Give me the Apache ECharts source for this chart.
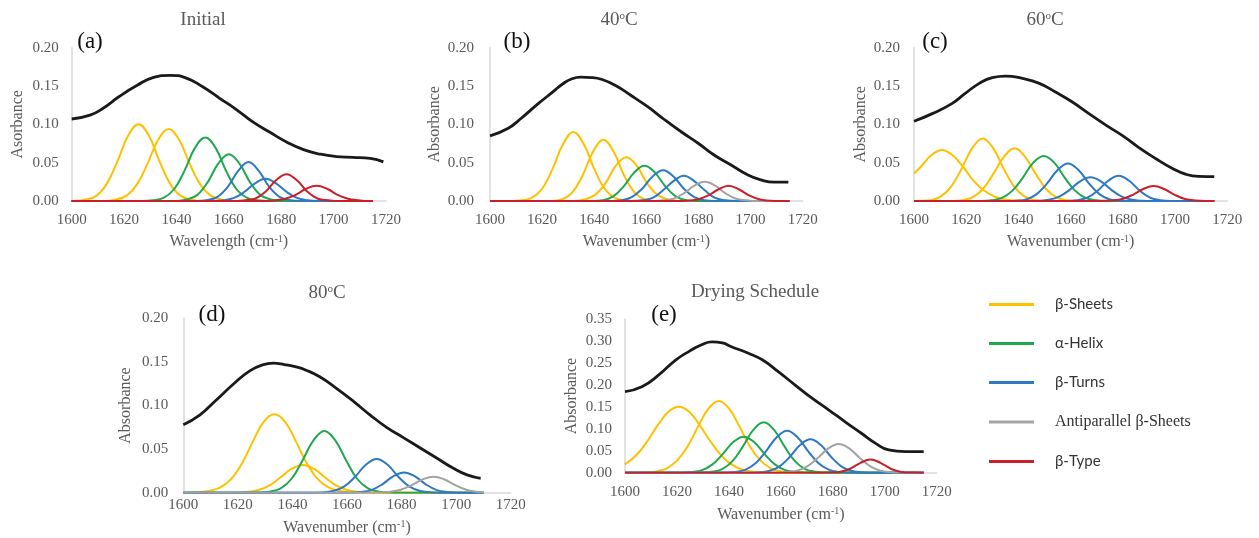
<!DOCTYPE html>
<html><head><meta charset="utf-8">
<script src="https://cdn.jsdelivr.net/npm/echarts@6/dist/echarts.min.js"></script>
<style>html,body{margin:0;padding:0;background:#fff}#c{width:1259px;height:538px}</style>
</head><body><div id="c"></div>
<script>
// ---------------- DATA ----------------
const xTicks = [1600, 1620, 1640, 1660, 1680, 1700, 1720];
const legendNames = ['β-Sheets', 'α-Helix', 'β-Turns', 'Antiparallel β-Sheets', 'β-Type'];
const panelTitles = ['Initial', '40{sup|o}C', '60{sup|o}C', '80{sup|o}C', 'Drying Schedule'];
const panelLetters = ['(a)', '(b)', '(c)', '(d)', '(e)'];
const xNames = ['Wavelength (cm{sup|-1})', 'Wavenumber (cm{sup|-1})', 'Wavenumber (cm{sup|-1})', 'Wavenumber (cm{sup|-1})', 'Wavenumber (cm{sup|-1})'];
const yNames = ['Asorbance', 'Absorbance', 'Absorbance', 'Absorbance', 'Absorbance'];
const yMax = [0.20, 0.20, 0.20, 0.20, 0.35];

// (a) Initial
const totalA = [[1600,0.107],[1607,0.112],[1612,0.121],[1618,0.136],[1625,0.151],[1631,0.161],[1637.5,0.164],[1644,0.160],[1650,0.149],[1656.5,0.134],[1663,0.119],[1669,0.1035],[1675.5,0.090],[1682,0.077],[1688.5,0.067],[1695,0.061],[1701,0.058],[1707.5,0.057],[1714,0.0555],[1719,0.051]];
const typesA = ['β-Sheets','β-Sheets','α-Helix','α-Helix','β-Turns','β-Turns','β-Type','β-Type'];
const peaksA = [
 [[1600,0],[1605.5,0.002],[1609.5,0.007],[1613.5,0.023],[1617.5,0.052],[1621.5,0.085],[1625.5,0.100],[1629.5,0.085],[1633.5,0.052],[1637.5,0.023],[1641.5,0.007],[1645.5,0.002],[1650,0],[1715,0]],
 [[1600,0],[1612,0],[1617,0.002],[1621,0.007],[1625,0.022],[1629,0.049],[1633,0.080],[1637,0.094],[1641,0.080],[1645,0.049],[1649,0.022],[1653,0.007],[1657,0.002],[1662,0],[1715,0]],
 [[1600,0],[1627,0],[1631,0.001],[1635,0.004],[1639,0.015],[1643,0.039],[1647,0.069],[1651,0.083],[1655,0.069],[1659,0.039],[1663,0.015],[1667,0.004],[1671,0.001],[1675,0],[1715,0]],
 [[1600,0],[1640,0],[1644,0.002],[1648,0.008],[1652,0.025],[1656,0.049],[1660,0.061],[1664,0.049],[1668,0.025],[1672,0.008],[1676,0.002],[1680,0],[1715,0]],
 [[1600,0],[1647.5,0],[1651.5,0.001],[1655.5,0.005],[1659.5,0.018],[1663.5,0.039],[1667.5,0.051],[1671.5,0.039],[1675.5,0.018],[1679.5,0.005],[1683.5,0.001],[1687.5,0],[1715,0]],
 [[1600,0],[1654,0],[1658,0.001],[1662,0.004],[1666,0.012],[1670,0.023],[1674,0.029],[1678,0.023],[1682,0.012],[1686,0.004],[1690,0.001],[1694,0],[1715,0]],
 [[1600,0],[1662,0],[1666,0.001],[1670,0.003],[1674,0.012],[1678,0.027],[1682,0.035],[1686,0.027],[1690,0.012],[1694,0.003],[1698,0.001],[1702,0],[1715,0]],
 [[1600,0],[1673.5,0],[1677.5,0.001],[1681.5,0.003],[1685.5,0.008],[1689.5,0.016],[1693.5,0.020],[1697.5,0.016],[1701.5,0.008],[1705.5,0.003],[1709.5,0.001],[1713.5,0],[1715,0]]
];

// (b) 40 °C
const totalB = [[1600,0.085],[1607,0.095],[1612,0.108],[1618.5,0.127],[1624,0.142],[1628,0.153],[1631.5,0.1595],[1635,0.1615],[1639,0.161],[1643,0.1585],[1648,0.151],[1654,0.138],[1660.5,0.123],[1667,0.106],[1673.5,0.090],[1680,0.075],[1686,0.060],[1692.5,0.047],[1699,0.034],[1704,0.0275],[1709,0.0245],[1714.5,0.0245]];
const typesB = ['β-Sheets','β-Sheets','β-Sheets','α-Helix','β-Turns','β-Turns','Antiparallel β-Sheets','β-Type'];
const peaksB = [
 [[1600,0],[1608,0],[1612,0.001],[1616,0.004],[1620,0.016],[1624,0.042],[1628,0.074],[1632,0.090],[1636,0.074],[1640,0.042],[1644,0.016],[1648,0.004],[1652,0.001],[1656,0],[1715,0]],
 [[1600,0],[1623.5,0],[1627.5,0.002],[1631.5,0.011],[1635.5,0.033],[1639.5,0.064],[1643.5,0.080],[1647.5,0.064],[1651.5,0.033],[1655.5,0.011],[1659.5,0.002],[1663.5,0],[1715,0]],
 [[1600,0],[1632.3,0],[1636.3,0.002],[1640.3,0.008],[1644.3,0.023],[1648.3,0.046],[1652.3,0.057],[1656.3,0.046],[1660.3,0.023],[1664.3,0.008],[1668.3,0.002],[1672.3,0],[1715,0]],
 [[1600,0],[1639.3,0],[1643.3,0.001],[1647.3,0.006],[1651.3,0.019],[1655.3,0.037],[1659.3,0.046],[1663.3,0.037],[1667.3,0.019],[1671.3,0.006],[1675.3,0.001],[1679.3,0],[1715,0]],
 [[1600,0],[1646.4,0],[1650.4,0.001],[1654.4,0.005],[1658.4,0.016],[1662.4,0.032],[1666.4,0.040],[1670.4,0.032],[1674.4,0.016],[1678.4,0.005],[1682.4,0.001],[1686.4,0],[1715,0]],
 [[1600,0],[1654.4,0],[1658.4,0.001],[1662.4,0.004],[1666.4,0.014],[1670.4,0.026],[1674.4,0.033],[1678.4,0.026],[1682.4,0.014],[1686.4,0.004],[1690.4,0.001],[1694.4,0],[1715,0]],
 [[1600,0],[1662.4,0],[1666.4,0.001],[1670.4,0.003],[1674.4,0.010],[1678.4,0.020],[1682.4,0.025],[1686.4,0.020],[1690.4,0.010],[1694.4,0.003],[1698.4,0.001],[1702.4,0],[1715,0]],
 [[1600,0],[1671.6,0],[1675.6,0.0003],[1679.6,0.002],[1683.6,0.007],[1687.6,0.015],[1691.6,0.020],[1695.6,0.015],[1699.6,0.007],[1703.6,0.002],[1707.6,0.0003],[1711.6,0],[1715,0]]
];

// (c) 60 °C
const totalC = [[1600,0.104],[1607,0.114],[1614.5,0.127],[1619.5,0.140],[1625,0.1535],[1630,0.161],[1635,0.163],[1641.5,0.160],[1648,0.1535],[1654,0.1425],[1660.5,0.1295],[1667,0.114],[1673.5,0.099],[1680,0.085],[1686,0.070],[1692.5,0.0555],[1699,0.0425],[1704,0.035],[1709,0.032],[1715,0.0317]];
const typesC = ['β-Sheets','β-Sheets','β-Sheets','α-Helix','β-Turns','β-Turns','β-Turns','β-Type'];
const peaksC = [
 [[1600,0.036],[1602.7,0.045],[1606.7,0.060],[1610.7,0.0665],[1614.7,0.060],[1618.7,0.045],[1622.7,0.027],[1626.7,0.014],[1630.7,0.006],[1634.7,0.002],[1638.7,0.0005],[1643,0],[1715,0]],
 [[1600,0],[1602.3,0.0002],[1606.3,0.001],[1610.3,0.006],[1614.3,0.019],[1618.3,0.0425],[1622.3,0.069],[1626.3,0.0817],[1630.3,0.069],[1634.3,0.0425],[1638.3,0.019],[1642.3,0.006],[1646.3,0.001],[1650.3,0],[1715,0]],
 [[1600,0],[1614.5,0],[1618.5,0.001],[1622.5,0.005],[1626.5,0.016],[1630.5,0.036],[1634.5,0.058],[1638.5,0.0687],[1642.5,0.058],[1646.5,0.036],[1650.5,0.016],[1654.5,0.005],[1658.5,0.001],[1662.5,0],[1715,0]],
 [[1600,0],[1625.7,0],[1629.7,0.001],[1633.7,0.004],[1637.7,0.0135],[1641.7,0.0305],[1645.7,0.050],[1649.7,0.0587],[1653.7,0.050],[1657.7,0.0305],[1661.7,0.0135],[1665.7,0.004],[1669.7,0.001],[1673.7,0],[1715,0]],
 [[1600,0],[1635,0],[1639,0.0004],[1643,0.002],[1647,0.009],[1651,0.023],[1655,0.0405],[1659,0.049],[1663,0.0405],[1667,0.023],[1671,0.009],[1675,0.002],[1679,0.0004],[1683,0],[1715,0]],
 [[1600,0],[1643.6,0],[1647.6,0.0003],[1651.6,0.0015],[1655.6,0.0056],[1659.6,0.0145],[1663.6,0.0256],[1667.6,0.031],[1671.6,0.0256],[1675.6,0.0145],[1679.6,0.0056],[1683.6,0.0015],[1687.6,0.0003],[1691.6,0],[1715,0]],
 [[1600,0],[1658.4,0],[1662.4,0.001],[1666.4,0.0045],[1670.4,0.0136],[1674.4,0.0264],[1678.4,0.033],[1682.4,0.0264],[1686.4,0.0136],[1690.4,0.0045],[1694.4,0.001],[1698.4,0],[1715,0]],
 [[1600,0],[1671.8,0],[1675.8,0.0006],[1679.8,0.0026],[1683.8,0.0081],[1687.8,0.0157],[1691.8,0.0196],[1695.8,0.0157],[1699.8,0.0081],[1703.8,0.0026],[1707.8,0.0006],[1711.8,0],[1715,0]]
];

// (d) 80 °C
const totalD = [[1600,0.078],[1606,0.089],[1612,0.106],[1618.5,0.125],[1624.5,0.140],[1629,0.1465],[1633,0.1485],[1637,0.147],[1641,0.1445],[1645,0.1405],[1650,0.133],[1656,0.120],[1662.5,0.1045],[1668.5,0.089],[1674.5,0.075],[1680.5,0.0635],[1687,0.051],[1693,0.0395],[1699,0.028],[1704,0.0205],[1709,0.0165]];
const typesD = ['β-Sheets','β-Sheets','α-Helix','β-Turns','β-Turns','Antiparallel β-Sheets'];
const peaksD = [
 [[1600,0],[1605.4,0.0004],[1609.4,0.002],[1613.4,0.0057],[1617.4,0.0153],[1621.4,0.033],[1625.4,0.058],[1629.4,0.081],[1633.4,0.090],[1637.4,0.081],[1641.4,0.058],[1645.4,0.033],[1649.4,0.0153],[1653.4,0.0057],[1657.4,0.002],[1661.4,0.0004],[1666,0],[1710,0]],
 [[1600,0],[1615,0],[1619.8,0.0002],[1623.8,0.001],[1627.8,0.0033],[1631.8,0.0088],[1635.8,0.018],[1639.8,0.0275],[1643.8,0.0317],[1647.8,0.0275],[1651.8,0.018],[1655.8,0.0088],[1659.8,0.0033],[1663.8,0.001],[1667.8,0.0002],[1672,0],[1710,0]],
 [[1600,0],[1623,0],[1627.7,0.0002],[1631.7,0.0012],[1635.7,0.005],[1639.7,0.016],[1643.7,0.037],[1647.7,0.060],[1651.7,0.0707],[1655.7,0.060],[1659.7,0.037],[1663.7,0.016],[1667.7,0.005],[1671.7,0.0012],[1675.7,0.0002],[1680,0],[1710,0]],
 [[1600,0],[1646,0],[1650.9,0.0003],[1654.9,0.0019],[1658.9,0.007],[1662.9,0.018],[1666.9,0.032],[1670.9,0.0386],[1674.9,0.032],[1678.9,0.018],[1682.9,0.007],[1686.9,0.0019],[1690.9,0.0003],[1695,0],[1710,0]],
 [[1600,0],[1660.9,0],[1664.9,0.0007],[1668.9,0.003],[1672.9,0.0096],[1676.9,0.0186],[1680.9,0.0233],[1684.9,0.0186],[1688.9,0.0096],[1692.9,0.003],[1696.9,0.0007],[1700.9,0],[1710,0]],
 [[1600,0],[1667.7,0],[1671.7,0.0002],[1675.7,0.0009],[1679.7,0.0033],[1683.7,0.0086],[1687.7,0.0152],[1691.7,0.0184],[1695.7,0.0152],[1699.7,0.0086],[1703.7,0.0033],[1707.7,0.0009],[1710,0.0003]]
];

// (e) Drying Schedule
const totalE = [[1600,0.185],[1606.5,0.196],[1613,0.223],[1619.5,0.257],[1625,0.278],[1629.5,0.292],[1633.5,0.2985],[1637.5,0.296],[1641,0.2875],[1647.5,0.2725],[1653,0.257],[1659,0.2305],[1665.5,0.200],[1672,0.170],[1678.5,0.143],[1685,0.115],[1691,0.090],[1696.5,0.067],[1701.5,0.052],[1708,0.048],[1715,0.048]];
const typesE = ['β-Sheets','β-Sheets','α-Helix','α-Helix','β-Turns','β-Turns','Antiparallel β-Sheets','β-Type'];
const peaksE = [
 [[1600,0.019],[1604.7,0.042],[1608.7,0.073],[1612.7,0.109],[1616.7,0.139],[1620.7,0.1507],[1624.7,0.139],[1628.7,0.109],[1632.7,0.073],[1636.7,0.042],[1640.7,0.020],[1644.7,0.008],[1648.7,0.003],[1652.7,0.001],[1657,0],[1715,0]],
 [[1600,0],[1604,0],[1608.1,0.0007],[1612.1,0.003],[1616.1,0.010],[1620.1,0.028],[1624.1,0.060],[1628.1,0.105],[1632.1,0.146],[1636.1,0.1636],[1640.1,0.146],[1644.1,0.105],[1648.1,0.060],[1652.1,0.028],[1656.1,0.010],[1660.1,0.003],[1664.1,0.0007],[1668,0],[1715,0]],
 [[1600,0],[1617,0],[1621.7,0.0002],[1625.7,0.0014],[1629.7,0.006],[1633.7,0.019],[1637.7,0.043],[1641.7,0.070],[1645.7,0.0822],[1649.7,0.070],[1653.7,0.043],[1657.7,0.019],[1661.7,0.006],[1665.7,0.0014],[1669.7,0.0002],[1674,0],[1715,0]],
 [[1600,0],[1625,0],[1629.4,0.0003],[1633.4,0.002],[1637.4,0.0084],[1641.4,0.0265],[1645.4,0.060],[1649.4,0.0976],[1653.4,0.115],[1657.4,0.0976],[1661.4,0.060],[1665.4,0.0265],[1669.4,0.0084],[1673.4,0.002],[1677.4,0.0003],[1682,0],[1715,0]],
 [[1600,0],[1634,0],[1638.4,0.0003],[1642.4,0.0016],[1646.4,0.007],[1650.4,0.022],[1654.4,0.050],[1658.4,0.081],[1662.4,0.0959],[1666.4,0.081],[1670.4,0.050],[1674.4,0.022],[1678.4,0.007],[1682.4,0.0016],[1686.4,0.0003],[1691,0],[1715,0]],
 [[1600,0],[1647,0],[1651.4,0.0007],[1655.4,0.0037],[1659.4,0.0139],[1663.4,0.0357],[1667.4,0.063],[1671.4,0.0761],[1675.4,0.063],[1679.4,0.0357],[1683.4,0.0139],[1687.4,0.0037],[1691.4,0.0007],[1696,0],[1715,0]],
 [[1600,0],[1658,0],[1662.3,0.0011],[1666.3,0.0048],[1670.3,0.015],[1674.3,0.034],[1678.3,0.0555],[1682.3,0.0654],[1686.3,0.0555],[1690.3,0.034],[1694.3,0.015],[1698.3,0.0048],[1702.3,0.0011],[1706.3,0.0002],[1710,0],[1715,0]],
 [[1600,0],[1674.5,0],[1678.5,0.0002],[1682.5,0.0017],[1686.5,0.0085],[1690.5,0.022],[1694.5,0.0304],[1698.5,0.022],[1702.5,0.0085],[1706.5,0.0017],[1710.5,0.0002],[1714.5,0],[1715,0]]
];

// ---------------- STYLE / LAYOUT ----------------
const totals = [totalA, totalB, totalC, totalD, totalE];
const types = [typesA, typesB, typesC, typesD, typesE];
const peaks = [peaksA, peaksB, peaksC, peaksD, peaksE];
const COLORS = {
  'β-Sheets': '#FFC000',
  'α-Helix': '#1FA84F',
  'β-Turns': '#2E78C4',
  'Antiparallel β-Sheets': '#A3A3A3',
  'β-Type': '#C9202B'
};
const SERIF = '"Liberation Serif", "Times New Roman", serif';
const GREY = '#595959';
const L = [
  {left:71.7, top:47.7, width:314.3, height:153.3, xm:12, xg:33, ym:13, yg:46, tx:203, ty:20, lx:90, ly:42},
  {left:490, top:47.7, width:312.7, height:153.3, xm:12, xg:33, ym:16, yg:47, tx:619, ty:20, lx:517, ly:42},
  {left:914, top:47.7, width:313.3, height:153.3, xm:12, xg:33, ym:14, yg:45, tx:1045, ty:20, lx:935, ly:42},
  {left:183.3, top:318.3, width:327.4, height:174.4, xm:5, xg:27, ym:15, yg:50, tx:327, ty:293, lx:212, ly:315},
  {left:625, top:319.3, width:311.7, height:153.4, xm:12, xg:34, ym:13, yg:45, tx:755, ty:292, lx:664, ly:315}
];
const supRich = (size) => ({ sup: { fontSize: size, fontFamily: SERIF, color: GREY, verticalAlign: 'top' } });

const grid = [], xAxis = [], yAxis = [], series = [], graphic = [];
L.forEach((g, i) => {
  grid.push({ left: g.left, top: g.top, width: g.width, height: g.height, containLabel: false });
  xAxis.push({
    gridIndex: i, type: 'value', min: xTicks[0], max: xTicks[xTicks.length - 1], interval: 20,
    axisLine: { show: true, onZero: false, lineStyle: { color: '#d9d9d9', width: 1.5 } },
    axisTick: { show: false }, splitLine: { show: false },
    axisLabel: { color: GREY, fontFamily: SERIF, fontSize: 15, margin: g.xm, showMinLabel: true, showMaxLabel: true, formatter: v => String(v) },
    name: xNames[i], nameLocation: 'middle', nameGap: g.xg,
    nameTextStyle: { color: GREY, fontFamily: SERIF, fontSize: 16, rich: supRich(10) }
  });
  yAxis.push({
    gridIndex: i, type: 'value', min: 0, max: yMax[i], interval: 0.05,
    axisLine: { show: true, lineStyle: { color: '#d9d9d9', width: 1.5 } },
    axisTick: { show: false }, splitLine: { show: false },
    axisLabel: { color: GREY, fontFamily: SERIF, fontSize: 15, margin: g.ym, formatter: v => v.toFixed(2) },
    name: yNames[i], nameLocation: 'middle', nameGap: g.yg, nameRotate: 90,
    nameTextStyle: { color: GREY, fontFamily: SERIF, fontSize: 16 }
  });
  series.push({
    name: 'Spectrum', type: 'line', xAxisIndex: i, yAxisIndex: i, data: totals[i],
    smooth: 0.5, symbol: 'none', lineStyle: { color: '#1a1a1a', width: 2.8 }, itemStyle: { color: '#1a1a1a' }, z: 2
  });
  peaks[i].forEach((pts, k) => {
    const c = COLORS[types[i][k]];
    series.push({
      name: types[i][k], type: 'line', xAxisIndex: i, yAxisIndex: i, data: pts,
      smooth: 0.4, symbol: 'none', lineStyle: { color: c, width: 2 }, itemStyle: { color: c }, z: 3
    });
  });
  graphic.push({
    type: 'text', x: g.tx, y: g.ty,
    style: { text: panelTitles[i], fill: GREY, fontFamily: SERIF, fontSize: 19, align: 'center', verticalAlign: 'middle',
      rich: { sup: { fontSize: 11, fontFamily: SERIF, fill: GREY, verticalAlign: 'top' } } }
  });
  graphic.push({
    type: 'text', x: g.lx, y: g.ly,
    style: { text: panelLetters[i], fill: '#111', fontFamily: SERIF, fontSize: 23, align: 'center', verticalAlign: 'middle' }
  });
});

const chart = echarts.init(document.getElementById('c'), null, { renderer: 'canvas' });
chart.setOption({
  animation: false,
  backgroundColor: '#ffffff',
  grid, xAxis, yAxis, series, graphic,
  legend: {
    orient: 'vertical', left: 984, top: 292, itemWidth: 45, itemHeight: 3, icon: 'rect', itemGap: 24,
    data: legendNames, selectedMode: false,
    formatter: n => n === 'Antiparallel β-Sheets' ? '{serif|' + n + '}' : '{sans|' + n + '}',
    textStyle: {
      padding: [0, 0, 0, 16],
      rich: {
        sans: { fontFamily: 'Lato, "Open Sans", sans-serif', fontSize: 15, color: '#333' },
        serif: { fontFamily: SERIF, fontSize: 16, color: '#333' }
      }
    }
  }
});
</script>
</body></html>
